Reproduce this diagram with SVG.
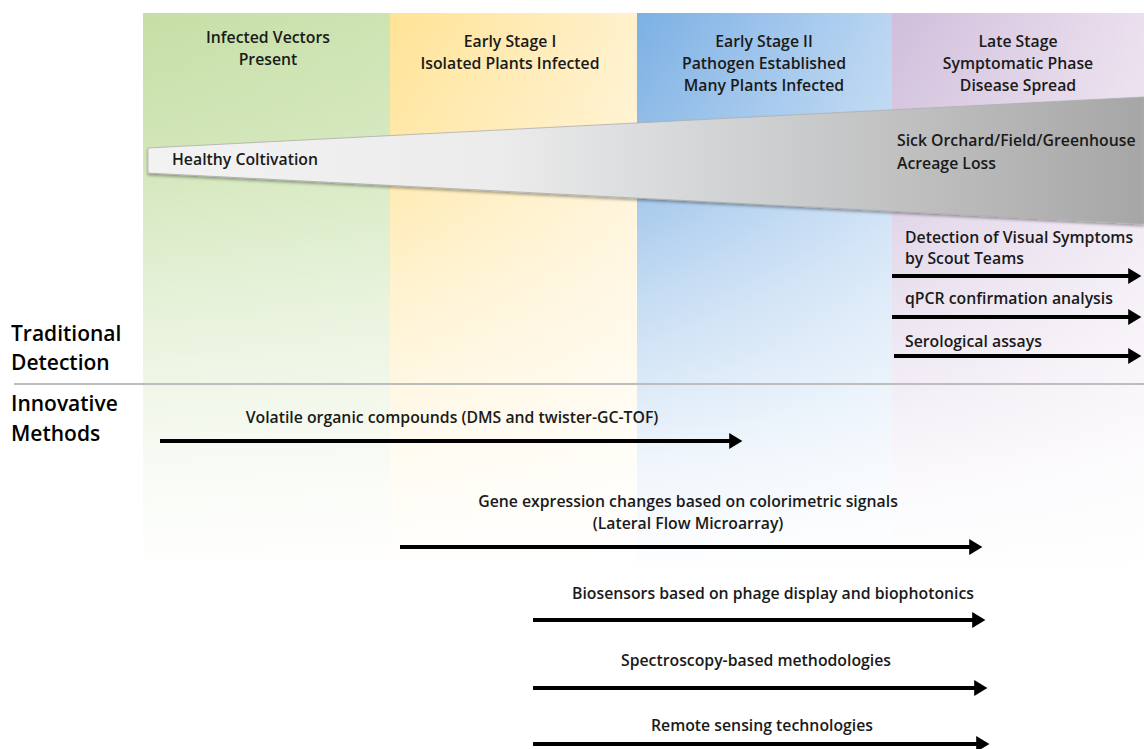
<svg xmlns="http://www.w3.org/2000/svg" width="1144" height="749" viewBox="0 0 1144 749">
<style>
  text { font-family: "Open Sans", "Liberation Sans", sans-serif; fill: #1a1a1a; font-weight: 600; }
  .hdr { font-size: 15.8px; text-anchor: middle; }
  .lbl { font-size: 15.8px; }
  .mid { text-anchor: middle; }
  .side { font-size: 21px; fill: #000; }
  .arr { stroke: #000; stroke-width: 4; fill: none; marker-end: url(#ah); }
</style>
<defs>
  <marker id="ah" markerWidth="4.5" markerHeight="4.5" refX="1.2" refY="2.2" orient="auto" markerUnits="strokeWidth">
    <path d="M0,0.2 L3.3,2.2 L0,4.2 Z" fill="#000"/>
  </marker>
  <linearGradient id="gGreen" x1="0" y1="0" x2="1" y2="0">
    <stop offset="0" stop-color="#c6dfa6"/><stop offset="1" stop-color="#cde4b2"/>
  </linearGradient>
  <linearGradient id="gYellow" x1="0" y1="0" x2="1" y2="0">
    <stop offset="0" stop-color="#ffe396"/><stop offset="1" stop-color="#fff1cc"/>
  </linearGradient>
  <linearGradient id="gBlue" x1="0" y1="0" x2="1" y2="0">
    <stop offset="0" stop-color="#7cb0e4"/><stop offset="1" stop-color="#b9d5f2"/>
  </linearGradient>
  <linearGradient id="gPurple" x1="0" y1="0" x2="1" y2="0">
    <stop offset="0" stop-color="#d0bedc"/><stop offset="1" stop-color="#ebe0ee"/>
  </linearGradient>
  <linearGradient id="gFade" gradientUnits="userSpaceOnUse" x1="0" y1="13" x2="0" y2="575">
    <stop offset="0" stop-color="#fff" stop-opacity="0"/>
    <stop offset="0.2" stop-color="#fff" stop-opacity="0.15"/>
    <stop offset="0.5" stop-color="#fff" stop-opacity="0.55"/>
    <stop offset="0.8" stop-color="#fff" stop-opacity="0.88"/>
    <stop offset="1" stop-color="#fff" stop-opacity="1"/>
  </linearGradient>
  <linearGradient id="gWedge" gradientUnits="userSpaceOnUse" x1="148" y1="0" x2="1144" y2="0">
    <stop offset="0" stop-color="#f2f2f2"/>
    <stop offset="0.35" stop-color="#ececec"/>
    <stop offset="0.55" stop-color="#d4d6d8"/>
    <stop offset="0.8" stop-color="#bcbcbc"/>
    <stop offset="1" stop-color="#a6a6a6"/>
  </linearGradient>
  <filter id="sh" x="-5%" y="-20%" width="110%" height="150%">
    <feDropShadow dx="0" dy="2" stdDeviation="1.5" flood-color="#000" flood-opacity="0.35"/>
  </filter>
</defs>

<g id="columns">
  <rect x="143" y="13" width="247" height="562" fill="url(#gGreen)"/>
  <rect x="390" y="13" width="247" height="562" fill="url(#gYellow)"/>
  <rect x="637" y="13" width="255" height="562" fill="url(#gBlue)"/>
  <rect x="892" y="13" width="252" height="562" fill="url(#gPurple)"/>
  <rect x="143" y="13" width="1001" height="562" fill="url(#gFade)"/>
</g>

<g id="stage-headers">
  <g id="stage-vectors">
    <text class="hdr" x="268" y="43">Infected Vectors</text>
    <text class="hdr" x="268" y="65">Present</text>
  </g>
  <g id="stage-early1">
    <text class="hdr" x="510" y="47">Early Stage I</text>
    <text class="hdr" x="510" y="69">Isolated Plants Infected</text>
  </g>
  <g id="stage-early2">
    <text class="hdr" x="764" y="47">Early Stage II</text>
    <text class="hdr" x="764" y="69">Pathogen Established</text>
    <text class="hdr" x="764" y="91">Many Plants Infected</text>
  </g>
  <g id="stage-late">
    <text class="hdr" x="1018" y="47">Late Stage</text>
    <text class="hdr" x="1018" y="69">Symptomatic Phase</text>
    <text class="hdr" x="1018" y="91">Disease Spread</text>
  </g>
</g>

<g id="wedge">
  <polygon points="148,148 1144,97 1144,224 148,173" fill="url(#gWedge)" stroke="#b0b0b0" stroke-width="0.8" filter="url(#sh)"/>
  <text class="lbl" x="172" y="165">Healthy Coltivation</text>
  <text class="lbl" x="897" y="146">Sick Orchard/Field/Greenhouse</text>
  <text class="lbl" x="897" y="169">Acreage Loss</text>
</g>

<g id="divider">
  <line x1="14" y1="384" x2="1144" y2="384" stroke="#bdbdbd" stroke-width="2"/>
</g>

<g id="side-labels">
  <g id="traditional">
    <text class="side" x="11" y="341">Traditional</text>
    <text class="side" x="11" y="370">Detection</text>
  </g>
  <g id="innovative">
    <text class="side" x="11" y="411">Innovative</text>
    <text class="side" x="11" y="441">Methods</text>
  </g>
</g>

<g id="traditional-methods">
  <g id="scout">
    <text class="lbl" x="905" y="243">Detection of Visual Symptoms</text>
    <text class="lbl" x="905" y="264">by Scout Teams</text>
  </g>
  <g id="qpcr">
    <text class="lbl" x="905" y="304">qPCR confirmation analysis</text>
  </g>
  <g id="serological">
    <text class="lbl" x="905" y="347">Serological assays</text>
  </g>
</g>

<g id="innovative-methods">
  <g id="voc">
    <text class="lbl mid" x="452" y="423">Volatile organic compounds (DMS and twister-GC-TOF)</text>
  </g>
  <g id="gene">
    <text class="lbl mid" x="688" y="507">Gene expression changes based on colorimetric signals</text>
    <text class="lbl mid" x="688" y="529">(Lateral Flow Microarray)</text>
  </g>
  <g id="biosensors">
    <text class="lbl mid" x="773" y="599">Biosensors based on phage display and biophotonics</text>
  </g>
  <g id="spectroscopy">
    <text class="lbl mid" x="756" y="666">Spectroscopy-based methodologies</text>
  </g>
  <g id="remote">
    <text class="lbl mid" x="762" y="731">Remote sensing technologies</text>
  </g>
</g>

<g id="connectors">
  <line class="arr" x1="892" y1="276" x2="1133" y2="276"/>
  <line class="arr" x1="892" y1="317" x2="1133" y2="317"/>
  <line class="arr" x1="894" y1="356" x2="1133" y2="356"/>
  <line class="arr" x1="160" y1="441" x2="734" y2="441"/>
  <line class="arr" x1="400" y1="547" x2="974" y2="547"/>
  <line class="arr" x1="533" y1="620" x2="977" y2="620"/>
  <line class="arr" x1="533" y1="688" x2="979" y2="688"/>
  <line class="arr" x1="533" y1="744" x2="981" y2="744"/>
</g>
</svg>
